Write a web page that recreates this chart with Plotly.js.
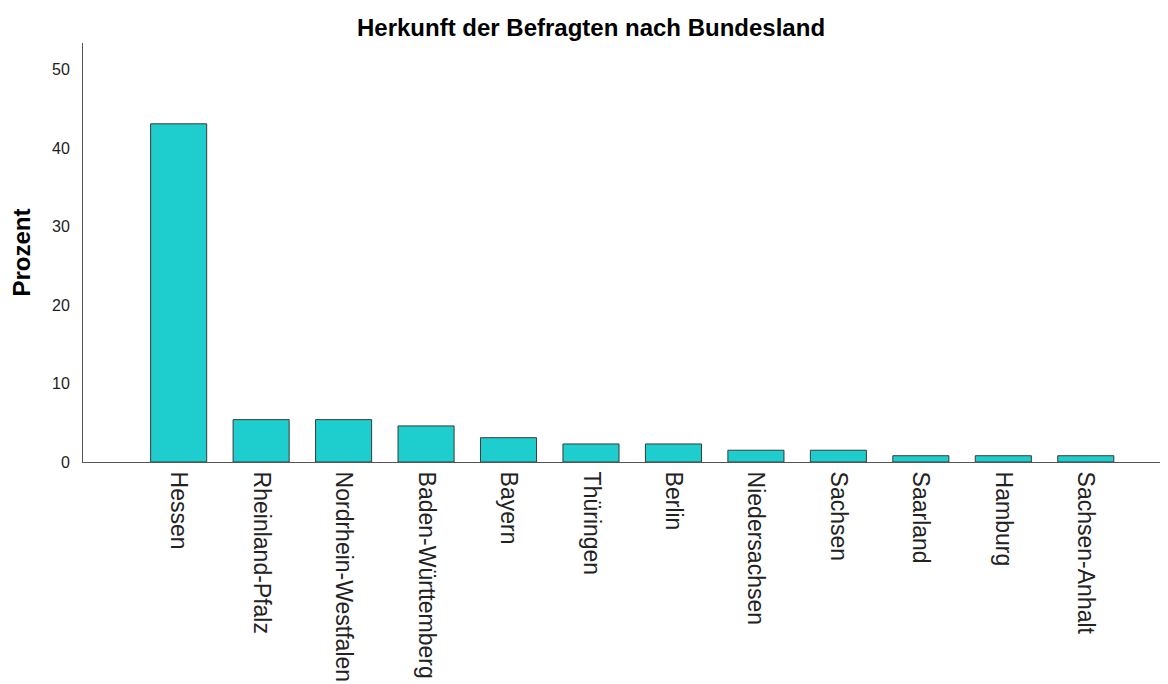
<!DOCTYPE html>
<html>
<head>
<meta charset="utf-8">
<script src="https://cdn.plot.ly/plotly-3.0.1.min.js"></script>
<style>html,body{margin:0;padding:0;background:#fff;}#chart{width:1168px;height:684px;}</style>
</head>
<body>
<div id="chart"></div>
<script>
const categories = ["Hessen","Rheinland-Pfalz","Nordrhein-Westfalen","Baden-Württemberg","Bayern","Thüringen","Berlin","Niedersachsen","Sachsen","Saarland","Hamburg","Sachsen-Anhalt"];
const percent = [43.1, 5.4, 5.4, 4.6, 3.1, 2.3, 2.3, 1.5, 1.5, 0.8, 0.8, 0.8];
const yTicks = [0, 10, 20, 30, 40, 50];

const trace = {
  type: "bar",
  x: categories,
  y: percent,
  width: 0.68,
  marker: {color: "#1ECDCD", line: {color: "#3a3a3a", width: 1}},
  hoverinfo: "x+y"
};

const FONT = "Liberation Sans, Arial, sans-serif";
const layout = {
  width: 1168, height: 684,
  margin: {l: 83, r: 8, t: 43, b: 222},
  paper_bgcolor: "#fff", plot_bgcolor: "#fff",
  showlegend: false,
  title: {text: "<b>Herkunft der Befragten nach Bundesland</b>", xref: "container", x: 0.506, xanchor: "center", y: 0.959, yanchor: "middle",
          font: {family: FONT, size: 24, color: "#000"}},
  xaxis: {
    type: "category",
    range: [-1.16, 11.9],
    showgrid: false, zeroline: false,
    showline: true, linecolor: "#555", linewidth: 1,
    ticks: "", tickangle: 90,
    ticklabelstandoff: 4,
    tickfont: {family: FONT, size: 23, color: "#222"}
  },
  yaxis: {
    range: [0, 53.4],
    tickvals: yTicks,
    showgrid: false, zeroline: false,
    showline: true, linecolor: "#555", linewidth: 1,
    ticks: "",
    ticklabelstandoff: 9,
    tickfont: {family: FONT, size: 16, color: "#222"},
    title: {text: "<b>Prozent</b>", standoff: 14, font: {family: FONT, size: 24, color: "#000"}}
  }
};

Plotly.newPlot("chart", [trace], layout, {displayModeBar: false, staticPlot: true});
</script>
</body>
</html>
